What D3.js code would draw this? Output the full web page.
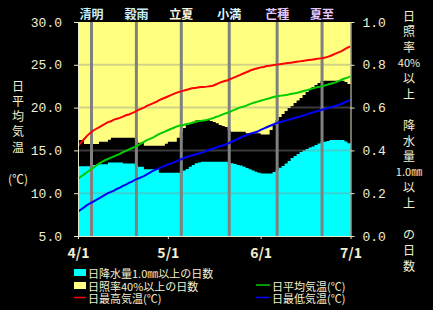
<!DOCTYPE html>
<html><head><meta charset="utf-8">
<script src="https://cdn.jsdelivr.net/npm/d3@7/dist/d3.min.js"></script>
<style>
html,body{margin:0;padding:0;background:#000;}
svg{display:block;}
text{fill:#f2efd2;}
</style></head>
<body>
<svg id="c" width="433" height="310"></svg>
<script>
// ---- data (day index 0 = 4/1) ----
const xTickDays = [0, 30, 61, 91];
const xTickLabels = ["4/1", "5/1", "6/1", "7/1"];
const tempTicks = [5, 10, 15, 20, 25, 30];
const fracTicks = [0, 0.2, 0.4, 0.6, 0.8, 1.0];
const sekkiNames = ["清明", "穀雨", "立夏", "小満", "芒種", "夏至"];
const sekkiDays = [4, 19, 34, 50, 66, 81];
const sekkiColors = ["#c8f0ff", "#c8f0ff", "#fff4dc", "#d8f6ff", "#e6c8ff", "#e6c8ff"];

// daily max / mean / min temperature, 4/1 .. 7/1 (92 points)
const tMax = [15.5,15.9,16.3,16.7,17.0,17.3,17.5,17.7,17.9,18.1,18.3,18.4,18.6,18.7,18.8,18.95,19.1,19.2,19.35,19.5,
  19.7,19.85,20.0,20.2,20.35,20.5,20.65,20.85,21.0,21.15,21.3,21.45,21.6,21.75,21.85,21.95,22.05,22.15,22.25,22.3,
  22.35,22.4,22.42,22.45,22.5,22.55,22.7,22.85,23.0,23.1,23.2,23.35,23.5,23.65,23.8,23.95,24.1,24.25,24.4,24.5,
  24.6,24.7,24.75,24.85,24.9,24.95,25.0,25.05,25.1,25.15,25.2,25.25,25.3,25.35,25.4,25.45,25.5,25.55,25.6,25.65,
  25.7,25.75,25.8,25.9,26.0,26.15,26.3,26.45,26.6,26.8,27.0,27.15];
const tMean = [11.65,11.95,12.2,12.45,12.7,12.95,13.2,13.45,13.65,13.85,14.0,14.15,14.3,14.45,14.6,14.8,14.95,15.1,15.25,15.4,
  15.6,15.8,16.0,16.2,16.35,16.5,16.7,16.9,17.05,17.2,17.35,17.5,17.65,17.8,17.9,17.95,18.05,18.1,18.2,18.3,
  18.4,18.45,18.5,18.55,18.65,18.75,18.9,19.0,19.15,19.3,19.4,19.55,19.7,19.85,20.0,20.1,20.2,20.35,20.5,20.6,
  20.7,20.8,20.9,21.0,21.1,21.2,21.3,21.35,21.4,21.45,21.5,21.6,21.65,21.7,21.8,21.9,22.0,22.1,22.2,22.3,
  22.4,22.45,22.55,22.65,22.75,22.85,22.95,23.1,23.25,23.4,23.5,23.65];
const tMin = [7.85,8.1,8.35,8.6,8.8,9.0,9.2,9.4,9.6,9.8,10.0,10.15,10.3,10.5,10.65,10.85,11.0,11.2,11.35,11.55,
  11.7,11.85,12.0,12.2,12.4,12.6,12.75,12.9,13.05,13.2,13.35,13.45,13.6,13.75,13.9,14.05,14.2,14.3,14.4,14.5,
  14.6,14.7,14.8,14.95,15.1,15.2,15.3,15.45,15.55,15.65,15.8,15.95,16.1,16.3,16.45,16.6,16.75,16.9,17.0,17.1,
  17.2,17.4,17.55,17.7,17.85,18.0,18.15,18.25,18.35,18.45,18.55,18.65,18.75,18.85,18.95,19.05,19.15,19.3,19.4,19.5,
  19.6,19.7,19.8,19.9,20.0,20.1,20.2,20.3,20.45,20.6,20.75,20.9];

// daily frequency of sunshine ratio >= 40% (drawn from the top), 4/1 .. 6/30
const sunFreq = [0.551,0.551,0.570,0.570,0.570,0.570,0.570,0.559,0.559,0.559,0.550,0.541,0.541,0.541,0.541,0.541,0.541,0.541,0.541,0.551,
  0.564,0.564,0.578,0.578,0.578,0.578,0.578,0.578,0.578,0.569,0.559,0.559,0.559,0.541,0.514,0.495,0.481,0.472,0.466,0.460,
  0.458,0.458,0.458,0.458,0.463,0.467,0.473,0.481,0.486,0.491,0.505,0.513,0.513,0.513,0.513,0.513,0.520,0.520,0.520,0.520,
  0.520,0.526,0.526,0.526,0.505,0.481,0.458,0.444,0.430,0.416,0.402,0.393,0.379,0.367,0.355,0.341,0.327,0.313,0.304,0.294,
  0.285,0.276,0.274,0.274,0.274,0.274,0.274,0.274,0.274,0.280,0.290];
// daily frequency of precipitation >= 1.0mm (drawn from the bottom), 4/1 .. 6/30
const rainFreq = [0.326,0.326,0.326,0.326,0.326,0.332,0.335,0.335,0.335,0.335,0.343,0.343,0.343,0.343,0.343,0.339,0.339,0.339,0.339,0.332,
  0.324,0.324,0.312,0.312,0.312,0.312,0.312,0.296,0.296,0.296,0.296,0.296,0.296,0.296,0.296,0.306,0.313,0.324,0.332,0.340,
  0.343,0.347,0.347,0.347,0.347,0.347,0.347,0.347,0.347,0.347,0.343,0.340,0.336,0.332,0.329,0.324,0.318,0.312,0.306,0.300,
  0.296,0.292,0.292,0.292,0.292,0.299,0.308,0.319,0.327,0.339,0.350,0.364,0.374,0.383,0.393,0.400,0.407,0.413,0.418,0.425,
  0.432,0.439,0.441,0.444,0.449,0.449,0.449,0.449,0.449,0.442,0.433];

const leftTitle = ["日","平","均","気","温"];
const leftUnit = "(℃)";
const rightTitle = ["日","照","率","40%","以","上","","降","水","量","1.0㎜","以","上","","の","日","数"];

// ---- drawing ----
const svg = d3.select("#c");
const TXT = "#f2efd2";
const MONO = "'Liberation Mono','DejaVu Sans Mono',monospace";
const JP = "'Noto Sans CJK JP','Noto Sans',sans-serif";

const x = d3.scaleLinear().domain([0, 91]).range([78, 350.5]);
const yT = d3.scaleLinear().domain([5, 30]).range([236, 22]);
const yF = d3.scaleLinear().domain([0, 1]).range([236, 22]);

const stepData = arr => arr.map((v, i) => ({i, v})).concat([{i: arr.length, v: arr[arr.length - 1]}]);

// yellow: sunshine frequency hanging from the top
svg.append("path")
  .datum(stepData(sunFreq))
  .attr("fill", "#ffff80")
  .attr("d", d3.area().curve(d3.curveStepAfter)
    .x(d => x(d.i)).y0(yF(1)).y1(d => yF(1 - d.v)));

// cyan: precipitation frequency from the bottom
svg.append("path")
  .datum(stepData(rainFreq))
  .attr("fill", "#00ffff")
  .attr("d", d3.area().curve(d3.curveStepAfter)
    .x(d => x(d.i)).y0(yF(0)).y1(d => yF(d.v)));

// horizontal grid
svg.append("g").selectAll("line").data(tempTicks.slice(1, -1)).join("line")
  .attr("x1", x(0)).attr("x2", x(91))
  .attr("y1", d => yT(d)).attr("y2", d => yT(d))
  .attr("stroke", "#909090").attr("stroke-opacity", 0.4).attr("stroke-width", 2);

// sekki vertical lines
svg.append("g").selectAll("line").data(sekkiDays).join("line")
  .attr("x1", d => x(d + 0.5)).attr("x2", d => x(d + 0.5))
  .attr("y1", yT(30)).attr("y2", yT(5))
  .attr("stroke", "#808080").attr("stroke-width", 3);

// sekki labels
svg.append("g").selectAll("text").data(sekkiDays).join("text")
  .attr("x", d => x(d + 0.5)).attr("y", 13)
  .attr("text-anchor", "middle").attr("dominant-baseline", "central")
  .style("font-family", JP).style("font-size", "12px").style("font-weight", "bold")
  .style("fill", (d, i) => sekkiColors[i])
  .text((d, i) => sekkiNames[i]);

// temperature lines
const line = d3.line().x((d, i) => x(i)).y(d => yT(d));
[[tMax, "#ff0000"], [tMean, "#00cc00"], [tMin, "#0000ff"]].forEach(([arr, c]) => {
  svg.append("path").datum(arr).attr("fill", "none").attr("stroke", c)
    .attr("stroke-width", 2).attr("d", line);
});

// axes
function styleAxis(g) {
  g.selectAll("path,line").attr("stroke", "#e8e4c8");
  g.selectAll("text").style("font-family", MONO).style("font-size", "13px").style("fill", TXT);
}
svg.append("g").attr("transform", `translate(${x(0)},0)`)
  .call(d3.axisLeft(yT).tickValues(tempTicks).tickFormat(d3.format(".1f")).tickSize(4).tickPadding(12).tickSizeOuter(0))
  .call(styleAxis);
svg.append("g").attr("transform", `translate(${x(91)},0)`)
  .call(d3.axisRight(yF).tickValues(fracTicks).tickFormat(d3.format(".1f")).tickSize(4).tickPadding(8).tickSizeOuter(0))
  .call(styleAxis);
svg.append("g").attr("transform", `translate(0,${yT(5)})`)
  .call(d3.axisBottom(x).tickValues(xTickDays).tickFormat((d, i) => xTickLabels[i]).tickSize(3).tickPadding(9).tickSizeOuter(0))
  .call(styleAxis)
  .call(g => g.selectAll("text").style("font-weight", "bold").style("font-family", JP).style("font-size", "14px"));

// left title
svg.append("g").selectAll("text").data(leftTitle).join("text")
  .attr("x", 18).attr("y", (d, i) => 85 + i * 15.3)
  .attr("text-anchor", "middle").attr("dominant-baseline", "central")
  .style("font-family", JP).style("font-size", "12px").text(d => d);
svg.append("text").attr("x", 18).attr("y", 178)
  .attr("text-anchor", "middle").attr("dominant-baseline", "central")
  .style("font-family", JP).style("font-size", "12px").text(leftUnit);

// right title
svg.append("g").selectAll("text").data(rightTitle).join("text")
  .attr("x", 409).attr("y", (d, i) => 15 + i * 15.625)
  .attr("text-anchor", "middle").attr("dominant-baseline", "central")
  .style("font-family", JP).style("font-size", d => d.length > 2 ? "11px" : "12px").text(d => d);

// legend
const lg = svg.append("g").style("font-family", JP).style("font-size", "11px");
lg.append("rect").attr("x", 74).attr("y", 269).attr("width", 12).attr("height", 7).attr("fill", "#00ffff");
lg.append("text").attr("x", 88).attr("y", 272.5).attr("dominant-baseline", "central").text("日降水量1.0㎜以上の日数");
lg.append("rect").attr("x", 74).attr("y", 282).attr("width", 12).attr("height", 7).attr("fill", "#ffff80");
lg.append("text").attr("x", 88).attr("y", 285.5).attr("dominant-baseline", "central").text("日照率40%以上の日数");
lg.append("line").attr("x1", 74).attr("x2", 86).attr("y1", 297.5).attr("y2", 297.5).attr("stroke", "#ff0000").attr("stroke-width", 1.5);
lg.append("text").attr("x", 88).attr("y", 298).attr("dominant-baseline", "central").text("日最高気温(℃)");
lg.append("line").attr("x1", 256).attr("x2", 270).attr("y1", 285).attr("y2", 285).attr("stroke", "#00cc00").attr("stroke-width", 1.5);
lg.append("text").attr("x", 272).attr("y", 285.5).attr("dominant-baseline", "central").text("日平均気温(℃)");
lg.append("line").attr("x1", 256).attr("x2", 270).attr("y1", 297.5).attr("y2", 297.5).attr("stroke", "#0000ff").attr("stroke-width", 1.5);
lg.append("text").attr("x", 272).attr("y", 298).attr("dominant-baseline", "central").text("日最低気温(℃)");
</script>
</body></html>
